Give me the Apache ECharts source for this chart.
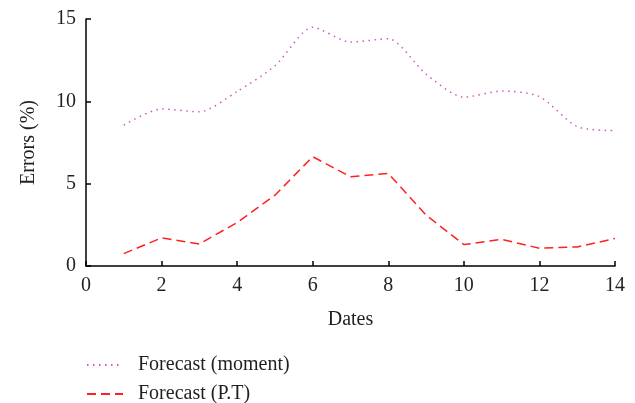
<!DOCTYPE html>
<html>
<head>
<meta charset="utf-8">
<script src="https://cdn.jsdelivr.net/npm/echarts@6/dist/echarts.min.js"></script>
<style>html,body{margin:0;padding:0;background:#fff}#c{width:635px;height:403px}</style>
</head>
<body>
<div id="c"></div>
<script>
const dates = [1,2,3,4,5,6,7,8,9,10,11,12,13,14];
const momentErr = [8.56,9.54,9.36,10.6,12.15,14.5,13.6,13.8,11.65,10.25,10.63,10.29,8.46,8.22];
const ptErr = [0.75,1.71,1.34,2.64,4.3,6.64,5.42,5.62,3.09,1.3,1.62,1.08,1.16,1.67];
const seriesNames = ['Forecast (moment)','Forecast (P.T)'];

const font = 'Liberation Serif';
const txt = '#231f20';
const fs = 20;
const chart = echarts.init(document.getElementById('c'));
chart.setOption({
  animation: false,
  textStyle: {fontFamily: font},
  grid: {left: 86, right: 20, top: 19, bottom: 137},
  legend: {
    orient: 'vertical', left: 81, top: 350, height: 60,
    itemWidth: 36, itemHeight: 14, itemGap: 9,
    itemStyle: {opacity: 0},
    textStyle: {fontFamily: font, fontSize: fs, color: txt, lineHeight: 14, padding: [0,0,0,10]},
    data: seriesNames
  },
  xAxis: {
    type: 'value', min: 0, max: 14, interval: 2,
    name: 'Dates', nameLocation: 'middle', nameGap: 44,
    nameTextStyle: {fontFamily: font, fontSize: fs, color: txt},
    axisLine: {lineStyle: {color: '#000', width: 1.5}},
    axisTick: {inside: true, length: 5, lineStyle: {color: '#000', width: 1.5}},
    axisLabel: {fontFamily: font, fontSize: fs, color: txt, margin: 10},
    splitLine: {show: false}
  },
  yAxis: {
    type: 'value', min: 0, max: 15, interval: 5,
    name: 'Errors (%)', nameLocation: 'middle', nameGap: 47,
    nameTextStyle: {fontFamily: font, fontSize: fs, color: txt},
    axisLine: {show: true, lineStyle: {color: '#000', width: 1.5}},
    axisTick: {show: true, inside: true, length: 5, lineStyle: {color: '#000', width: 1.5}},
    axisLabel: {fontFamily: font, fontSize: fs, color: txt, margin: 10},
    splitLine: {show: false}
  },
  series: [
    {
      name: seriesNames[0], type: 'line', symbol: 'none', smooth: 0.25,
      data: dates.map((d,i)=>[d, momentErr[i]]),
      lineStyle: {color: '#d058c0', width: 1.5, type: [1.5, 4.5]},
      itemStyle: {color: '#d058c0'}
    },
    {
      name: seriesNames[1], type: 'line', symbol: 'none',
      data: dates.map((d,i)=>[d, ptErr[i]]),
      lineStyle: {color: '#ff2020', width: 1.5, type: [9, 5]},
      itemStyle: {color: '#ff2020'}
    }
  ]
});
</script>
</body>
</html>
